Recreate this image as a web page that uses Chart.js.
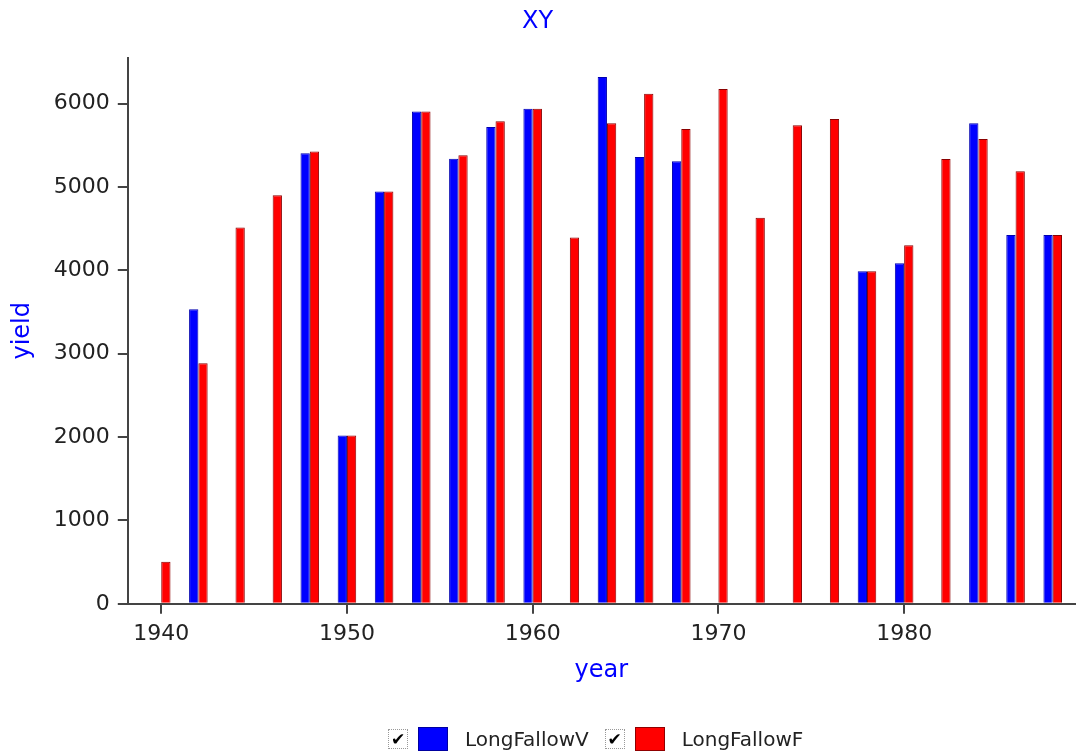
<!DOCTYPE html>
<html>
<head>
<meta charset="utf-8">
<script src="https://cdn.jsdelivr.net/npm/chart.js@4"></script>
<style>
  html, body { margin: 0; padding: 0; background: #fff; }
  #wrap { position: relative; width: 1079px; height: 753px; }
  #legend {
    position: absolute; left: 388px; top: 726px; height: 26px;
    display: flex; align-items: center;
    font-family: "DejaVu Sans", sans-serif; font-size: 20px; color: #222;
  }
  .chk {
    width: 18px; height: 18px; border: 1px dotted #999; box-sizing: content-box;
    font-size: 17px; font-weight: bold; line-height: 18px; text-align: center; color: #000;
  }
  .sw { width: 28px; height: 22px; margin-left: 10px; margin-right: 17px; }
</style>
</head>
<body>
<div id="wrap">
  <canvas id="chart" width="1079" height="753"></canvas>
  <div id="legend">
    <span class="chk">✔</span>
    <span class="sw" style="background:#0000ff;border:1px solid #0000a0"></span>
    <span>LongFallowV</span>
    <span class="chk" style="margin-left:16px">✔</span>
    <span class="sw" style="background:#ff0000;border:1px solid #900000"></span>
    <span>LongFallowF</span>
  </div>
</div>
<script>
// years (x) and yields for the two series; null = no bar
const years = [1940, 1942, 1944, 1946, 1948, 1950, 1952, 1954, 1956, 1958, 1960, 1962, 1964,
  1966, 1968, 1970, 1972, 1974, 1976, 1978, 1980, 1982, 1984, 1986, 1988];
const longFallowV = [null, 3535, null, null, 5405, 2020, 4945, 5905, 5340, 5720, 5940, null, 6320,
  5360, 5310, null, null, null, null, 3990, 4085, null, 5765, 4425, 4425];
const longFallowF = [505, 2885, 4515, 4900, 5425, 2020, 4945, 5905, 5380, 5790, 5940, 4395, 5765,
  6120, 5695, 6175, 4630, 5740, 5815, 3990, 4300, 5335, 5575, 5190, 4425];
const xTicks = [1940, 1950, 1960, 1970, 1980];
const yTicks = [0, 1000, 2000, 3000, 4000, 5000, 6000];

const toPoints = vals => years.map((y, i) => ({ x: y, y: vals[i] }));

const font = { family: 'DejaVu Sans', size: 22 };
const axisColor = '#444';

new Chart(document.getElementById('chart'), {
  type: 'bar',
  data: {
    datasets: [
      { label: 'LongFallowV', data: toPoints(longFallowV),
        backgroundColor: '#0000ff', borderColor: '#0000b0', borderWidth: 1 },
      { label: 'LongFallowF', data: toPoints(longFallowF),
        backgroundColor: '#ff0000', borderColor: '#8a0000', borderWidth: 1 }
    ]
  },
  options: {
    responsive: false,
    animation: false,
    layout: { padding: { left: 0, right: 4, top: 0, bottom: 58 } },
    datasets: { bar: { categoryPercentage: 0.5, barPercentage: 1 } },
    plugins: {
      legend: { display: false },
      tooltip: { enabled: false },
      title: {
        display: true, text: 'XY', color: '#0000ff',
        font: { family: 'DejaVu Sans', size: 24, weight: 'normal' },
        padding: { top: 7, bottom: 22 }
      }
    },
    scales: {
      x: {
        type: 'linear', min: 1938.2, max: 1989.2, offset: false,
        afterBuildTicks: axis => { axis.ticks = xTicks.map(v => ({ value: v })); },
        ticks: { color: '#222', font, padding: 7, maxRotation: 0, callback: v => String(v) },
        grid: { offset: false, drawOnChartArea: false, tickLength: 10, color: axisColor, lineWidth: 2 },
        border: { display: true, color: axisColor, width: 2 },
        title: { display: true, text: 'year', color: '#0000ff',
          font: { family: 'DejaVu Sans', size: 24 }, padding: { top: 2, bottom: 10 } }
      },
      y: {
        min: 0, max: 6550,
        afterBuildTicks: axis => { axis.ticks = yTicks.map(v => ({ value: v })); },
        ticks: { color: '#222', font, padding: 8, callback: v => String(v) },
        grid: { drawOnChartArea: false, tickLength: 10, color: axisColor, lineWidth: 2 },
        border: { display: true, color: axisColor, width: 2 },
        title: { display: true, text: 'yield', color: '#0000ff',
          font: { family: 'DejaVu Sans', size: 24 }, padding: { top: 8, bottom: 9 } }
      }
    }
  }
});
</script>
</body>
</html>
